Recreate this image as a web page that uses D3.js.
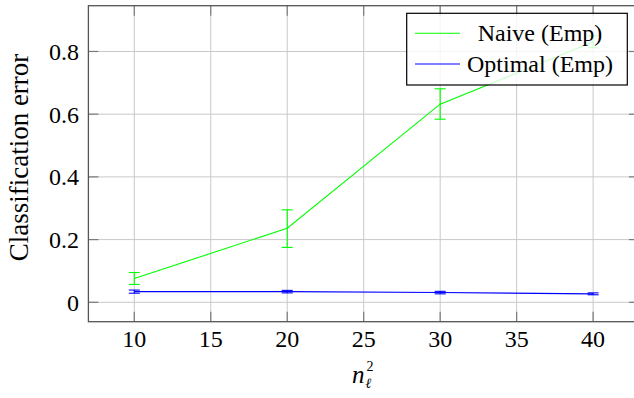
<!DOCTYPE html>
<html>
<head>
<meta charset="utf-8">
<script src="https://cdn.jsdelivr.net/npm/d3@7"></script>
<style>
  html, body { margin: 0; padding: 0; background: #fff; }
  svg { display: block; }
  text { font-family: "Liberation Serif", "Tinos", "Times New Roman", "DejaVu Serif", serif; fill: #000; }
</style>
</head>
<body>
<div id="chart"></div>
<script>
// Classification error versus n_ℓ² for the two empirical estimators
const xValues = [10, 20, 30, 40];
const naiveMean = [0.076, 0.236, 0.632, 0.830];
const naiveLow  = [0.057, 0.175, 0.584, 0.812];
const naiveHigh = [0.095, 0.295, 0.681, 0.850];
const optimalMean = [0.034, 0.034, 0.031, 0.027];
const optimalErr  = [0.005, 0.004, 0.004, 0.003];
const xTicks = [10, 15, 20, 25, 30, 35, 40];
const yTicks = [0, 0.2, 0.4, 0.6, 0.8];
const yTickLabels = ["0", "0.2", "0.4", "0.6", "0.8"];
const seriesNames = ["Naive (Emp)", "Optimal (Emp)"];

const W = 634, H = 398;
const plotL = 88.4, plotR = 639, plotT = 5.7, plotB = 321.7;

const x = d3.scaleLinear().domain([7, 43]).range([plotL, plotR]);
const y = d3.scaleLinear().domain([-0.0619, 0.946]).range([plotB, plotT]);

const svg = d3.select("#chart").append("svg")
  .attr("width", W).attr("height", H);

// grid
const grid = svg.append("g").attr("stroke", "#c9c9c9").attr("stroke-width", 1);
grid.selectAll("line.gx").data(xTicks).join("line").attr("class", "gx")
  .attr("x1", d => x(d)).attr("x2", d => x(d))
  .attr("y1", plotT).attr("y2", plotB);
grid.selectAll("line.gy").data(yTicks).join("line").attr("class", "gy")
  .attr("x1", plotL).attr("x2", plotR)
  .attr("y1", d => y(d)).attr("y2", d => y(d));

// inner tick marks on all four sides
const tickLen = 10;
const ticks = svg.append("g").attr("stroke", "#7a7a7a").attr("stroke-width", 1.2);
xTicks.forEach(t => {
  ticks.append("line").attr("x1", x(t)).attr("x2", x(t)).attr("y1", plotB).attr("y2", plotB - tickLen);
  ticks.append("line").attr("x1", x(t)).attr("x2", x(t)).attr("y1", plotT).attr("y2", plotT + tickLen);
});
yTicks.forEach(t => {
  ticks.append("line").attr("x1", plotL).attr("x2", plotL + tickLen).attr("y1", y(t)).attr("y2", y(t));
  ticks.append("line").attr("x1", plotR).attr("x2", plotR - tickLen).attr("y1", y(t)).attr("y2", y(t));
});

// data series with error bars
function drawSeries(mean, low, high, color) {
  const pts = xValues.map((v, i) => ({ x: v, m: mean[i], lo: low[i], hi: high[i] }));
  const g = svg.append("g").attr("stroke", color).attr("fill", "none").attr("stroke-width", 1.1);
  g.append("path").datum(pts)
    .attr("d", d3.line().x(d => x(d.x)).y(d => y(d.m)));
  const cap = 5.5;
  pts.forEach(p => {
    g.append("line").attr("x1", x(p.x)).attr("x2", x(p.x)).attr("y1", y(p.lo)).attr("y2", y(p.hi));
    g.append("line").attr("x1", x(p.x) - cap).attr("x2", x(p.x) + cap).attr("y1", y(p.lo)).attr("y2", y(p.lo));
    g.append("line").attr("x1", x(p.x) - cap).attr("x2", x(p.x) + cap).attr("y1", y(p.hi)).attr("y2", y(p.hi));
  });
}
drawSeries(naiveMean, naiveLow, naiveHigh, "#00ff00");
drawSeries(optimalMean,
  optimalMean.map((m, i) => m - optimalErr[i]),
  optimalMean.map((m, i) => m + optimalErr[i]),
  "#0000ff");

// axis frame
svg.append("rect")
  .attr("x", plotL).attr("y", plotT)
  .attr("width", plotR - plotL).attr("height", plotB - plotT)
  .attr("fill", "none").attr("stroke", "#555").attr("stroke-width", 1.3);

// tick labels
svg.append("g").selectAll("text").data(xTicks).join("text")
  .attr("x", d => x(d)).attr("y", 347)
  .attr("text-anchor", "middle").attr("font-size", 24)
  .text(d => d);
svg.append("g").selectAll("text").data(yTicks).join("text")
  .attr("x", 79).attr("y", d => y(d) + 8.5)
  .attr("text-anchor", "end").attr("font-size", 24)
  .text((d, i) => yTickLabels[i]);

// axis labels
svg.append("text")
  .attr("transform", "translate(28,157.5) rotate(-90)")
  .attr("text-anchor", "middle").attr("font-size", 27)
  .text("Classification error");

const xl = svg.append("g").attr("transform", "translate(352,383)");
xl.append("text").attr("x", 0).attr("y", 0).attr("font-size", 25)
  .attr("font-style", "italic").text("n");
xl.append("text").attr("x", 14.5).attr("y", -12).attr("font-size", 14).text("2");
xl.append("text").attr("x", 13.5).attr("y", 5).attr("font-size", 14)
  .attr("font-style", "italic").text("ℓ");

// legend
const lg = svg.append("g");
lg.append("rect")
  .attr("x", 406.7).attr("y", 13.3).attr("width", 220.6).attr("height", 71.7)
  .attr("fill", "#fff").attr("fill-opacity", 0.8)
  .attr("stroke", "#000").attr("stroke-width", 1.2);
const legendColors = ["#00ff00", "#0000ff"];
const legendRows = [33.3, 64];
seriesNames.forEach((name, i) => {
  lg.append("line").attr("x1", 415).attr("x2", 460)
    .attr("y1", legendRows[i]).attr("y2", legendRows[i])
    .attr("stroke", legendColors[i]).attr("stroke-width", 1.1);
  lg.append("text").attr("x", 540).attr("y", legendRows[i] + 7.5)
    .attr("text-anchor", "middle").attr("font-size", 24)
    .text(name);
});
</script>
</body>
</html>
